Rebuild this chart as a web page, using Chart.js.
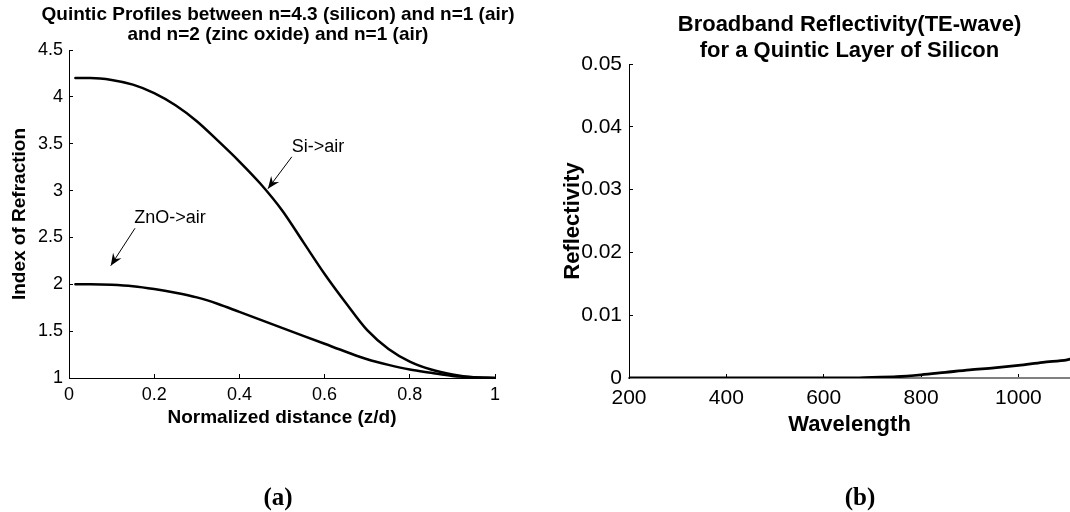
<!DOCTYPE html>
<html><head><meta charset="utf-8">
<script src="https://cdn.jsdelivr.net/npm/chart.js@4.4.1/dist/chart.umd.min.js"></script>
<style>
html,body{margin:0;padding:0;background:#fff;overflow:hidden;width:1070px;height:512px;position:relative;}
canvas{position:absolute;top:0;}
#chartA{left:0;}
#chartB{left:540px;}
</style></head><body>
<canvas id="chartA" width="556" height="512"></canvas>
<canvas id="chartB" width="640" height="512"></canvas>
<script>
// ---- Panel (a): quintic index profiles ----
const distance  = [0.015,0.05,0.1,0.15,0.2,0.25,0.3,0.35,0.4,0.45,0.5,0.55,0.6,0.65,0.7,0.75,0.8,0.85,0.9,0.95,1];
const siToAir   = [4.2,4.2,4.18,4.13,4.04,3.91,3.74,3.53,3.31,3.07,2.79,2.45,2.11,1.80,1.51,1.31,1.175,1.09,1.038,1.008,1.0];
const znoToAir  = [2.0,2.0,1.995,1.98,1.95,1.91,1.86,1.79,1.705,1.62,1.535,1.45,1.365,1.28,1.20,1.14,1.09,1.055,1.022,1.007,1.0];
const ticksAx   = [0,0.2,0.4,0.6,0.8,1];
const ticksAy   = [1,1.5,2,2.5,3,3.5,4,4.5];
const arrowNotes = [
  { label: 'Si->air',  labelAt: [0.523, 3.465], tail: [0.523, 3.36], head: [0.467, 3.02] },
  { label: 'ZnO->air', labelAt: [0.153, 2.704], tail: [0.155, 2.598], head: [0.098, 2.199] }
];

// ---- Panel (b): reflectivity ----
const wavelength   = [200,250,300,350,400,450,500,550,600,650,700,750,800,850,900,950,1000,1050,1100,1106];
const reflectivity = [0,0,0,0,0,0,0,0,0,0,0.0001,0.0002,0.0005,0.0009,0.0013,0.0016,0.0020,0.0025,0.0029,0.0030];
const ticksBx      = [200,400,600,800,1000];
const ticksBy      = [0,0.01,0.02,0.03,0.04,0.05];

const SANS = 'Liberation Sans';
const SERIF = 'Liberation Serif';

const arrowPlugin = {
  id: 'arrowNotes',
  afterDatasetsDraw(chart) {
    const {ctx, scales: {x, y}} = chart;
    ctx.save();
    ctx.font = '18px "' + SANS + '"';
    ctx.fillStyle = '#000';
    ctx.strokeStyle = '#000';
    ctx.textBaseline = 'middle';
    ctx.textAlign = 'left';
    arrowNotes.forEach(n => {
      ctx.fillText(n.label, x.getPixelForValue(n.labelAt[0]), y.getPixelForValue(n.labelAt[1]));
      const x0 = x.getPixelForValue(n.tail[0]), y0 = y.getPixelForValue(n.tail[1]);
      const x1 = x.getPixelForValue(n.head[0]), y1 = y.getPixelForValue(n.head[1]);
      ctx.lineWidth = 1;
      ctx.beginPath(); ctx.moveTo(x0, y0); ctx.lineTo(x1, y1); ctx.stroke();
      const a = Math.atan2(y1 - y0, x1 - x0);
      const ux = Math.cos(a), uy = Math.sin(a), px = -uy, py = ux;
      const L = 12, W = 5, N = 8;
      ctx.beginPath();
      ctx.moveTo(x1, y1);
      ctx.lineTo(x1 - L*ux + W*px, y1 - L*uy + W*py);
      ctx.lineTo(x1 - N*ux, y1 - N*uy);
      ctx.lineTo(x1 - L*ux - W*px, y1 - L*uy - W*py);
      ctx.closePath();
      ctx.fill();
    });
    ctx.restore();
  }
};

function tickSetter(list) {
  return (scale) => { scale.ticks = list.map(v => ({ value: v })); };
}

const lineStyle = { borderColor: '#000', borderWidth: 2.5, pointRadius: 0, fill: false,
  cubicInterpolationMode: 'monotone', borderCapStyle: 'round', borderJoinStyle: 'round' };

new Chart(document.getElementById('chartA'), {
  type: 'line',
  data: { datasets: [
    Object.assign({ label: 'Si->air',  data: distance.map((z, i) => ({ x: z, y: siToAir[i] })) }, lineStyle),
    Object.assign({ label: 'ZnO->air', data: distance.map((z, i) => ({ x: z, y: znoToAir[i] })) }, lineStyle)
  ]},
  options: {
    responsive: false, animation: false,
    layout: { padding: 0 },
    plugins: {
      legend: { display: false }, tooltip: { enabled: false },
      title: { display: true, fullSize: true, color: '#000',
        text: ['Quintic Profiles between n=4.3 (silicon) and n=1 (air)', 'and n=2 (zinc oxide) and n=1 (air)'],
        font: { family: SANS, size: 19, weight: 'bold', lineHeight: 20/19 },
        padding: { top: 4.5, bottom: 5.5 } },
      subtitle: { display: true, position: 'bottom', text: '(a)', color: '#000',
        font: { family: SERIF, size: 25, weight: 'bold', lineHeight: 1 },
        padding: { top: 48, bottom: 1 } }
    },
    scales: {
      x: { type: 'linear', min: 0, max: 1, position: 'bottom',
        afterBuildTicks: tickSetter(ticksAx),
        afterFit: s => { s.height = 60; },
        grid: { drawOnChartArea: false, tickLength: -4, color: '#000', lineWidth: 1 },
        border: { color: '#000', width: 1 },
        ticks: { padding: 10, color: '#000', maxRotation: 0, minRotation: 0, autoSkip: false,
          font: { family: SANS, size: 18 }, callback: v => String(v) },
        title: { display: true, text: 'Normalized distance (z/d)', color: '#000',
          font: { family: SANS, size: 19, weight: 'bold' }, padding: { top: 0, bottom: 8.6 } } },
      y: { type: 'linear', min: 1, max: 4.5, position: 'left',
        afterBuildTicks: tickSetter(ticksAy),
        afterFit: s => { s.width = 69; },
        grid: { drawOnChartArea: false, tickLength: -4, color: '#000', lineWidth: 1 },
        border: { color: '#000', width: 1 },
        ticks: { padding: 10, color: '#000', autoSkip: false,
          font: { family: SANS, size: 18 }, callback: v => String(v) },
        title: { display: true, text: 'Index of Refraction', color: '#000',
          font: { family: SANS, size: 19, weight: 'bold' }, padding: { top: 8, bottom: 0 } } },
      ySpacer: { type: 'linear', position: 'right', display: true,
        grid: { display: false }, border: { display: false }, ticks: { display: false },
        afterFit: s => { s.width = 61; } }
    }
  },
  plugins: [arrowPlugin]
});

new Chart(document.getElementById('chartB'), {
  type: 'line',
  data: { datasets: [
    Object.assign({ label: 'Reflectivity', data: wavelength.map((w, i) => ({ x: w, y: reflectivity[i] })) }, lineStyle, { borderWidth: 2.8 })
  ]},
  options: {
    responsive: false, animation: false,
    layout: { padding: 0 },
    plugins: {
      legend: { display: false }, tooltip: { enabled: false },
      title: { display: true, fullSize: false, color: '#000',
        text: ['Broadband Reflectivity(TE-wave)', 'for a Quintic Layer of Silicon'],
        font: { family: SANS, size: 22, weight: 'bold', lineHeight: 26/22 },
        padding: { top: 12, bottom: 0 } },
      subtitle: { display: true, position: 'bottom', text: '(b)', color: '#000',
        font: { family: SERIF, size: 25, weight: 'bold', lineHeight: 1 },
        padding: { top: 42, bottom: 1 } }
    },
    scales: {
      x: { type: 'linear', min: 200, max: 1106, position: 'bottom',
        afterBuildTicks: tickSetter(ticksBx),
        afterFit: s => { s.height = 66; },
        grid: { drawOnChartArea: false, tickLength: -4, color: '#000', lineWidth: 1 },
        border: { color: '#808080', width: 2 },
        ticks: { padding: 12, color: '#000', maxRotation: 0, minRotation: 0, autoSkip: false,
          font: { family: SANS, size: 21 }, callback: v => String(v) },
        title: { display: true, text: 'Wavelength', color: '#000',
          font: { family: SANS, size: 22, weight: 'bold' }, padding: { top: 0, bottom: 6.1 } } },
      y: { type: 'linear', min: 0, max: 0.05, position: 'left',
        afterBuildTicks: tickSetter(ticksBy),
        afterFit: s => { s.width = 89; },
        grid: { drawOnChartArea: false, tickLength: -4, color: '#000', lineWidth: 1 },
        border: { color: '#000', width: 1 },
        ticks: { padding: 11, color: '#000', autoSkip: false,
          font: { family: SANS, size: 21 }, callback: v => String(v) },
        title: { display: true, text: 'Reflectivity', color: '#000',
          font: { family: SANS, size: 22, weight: 'bold' }, padding: { top: 19.8, bottom: 0 } } },
      ySpacer: { type: 'linear', position: 'right', display: true,
        grid: { display: false }, border: { display: false }, ticks: { display: false },
        afterFit: s => { s.width = 110; } }
    }
  }
});
</script>
</body></html>
